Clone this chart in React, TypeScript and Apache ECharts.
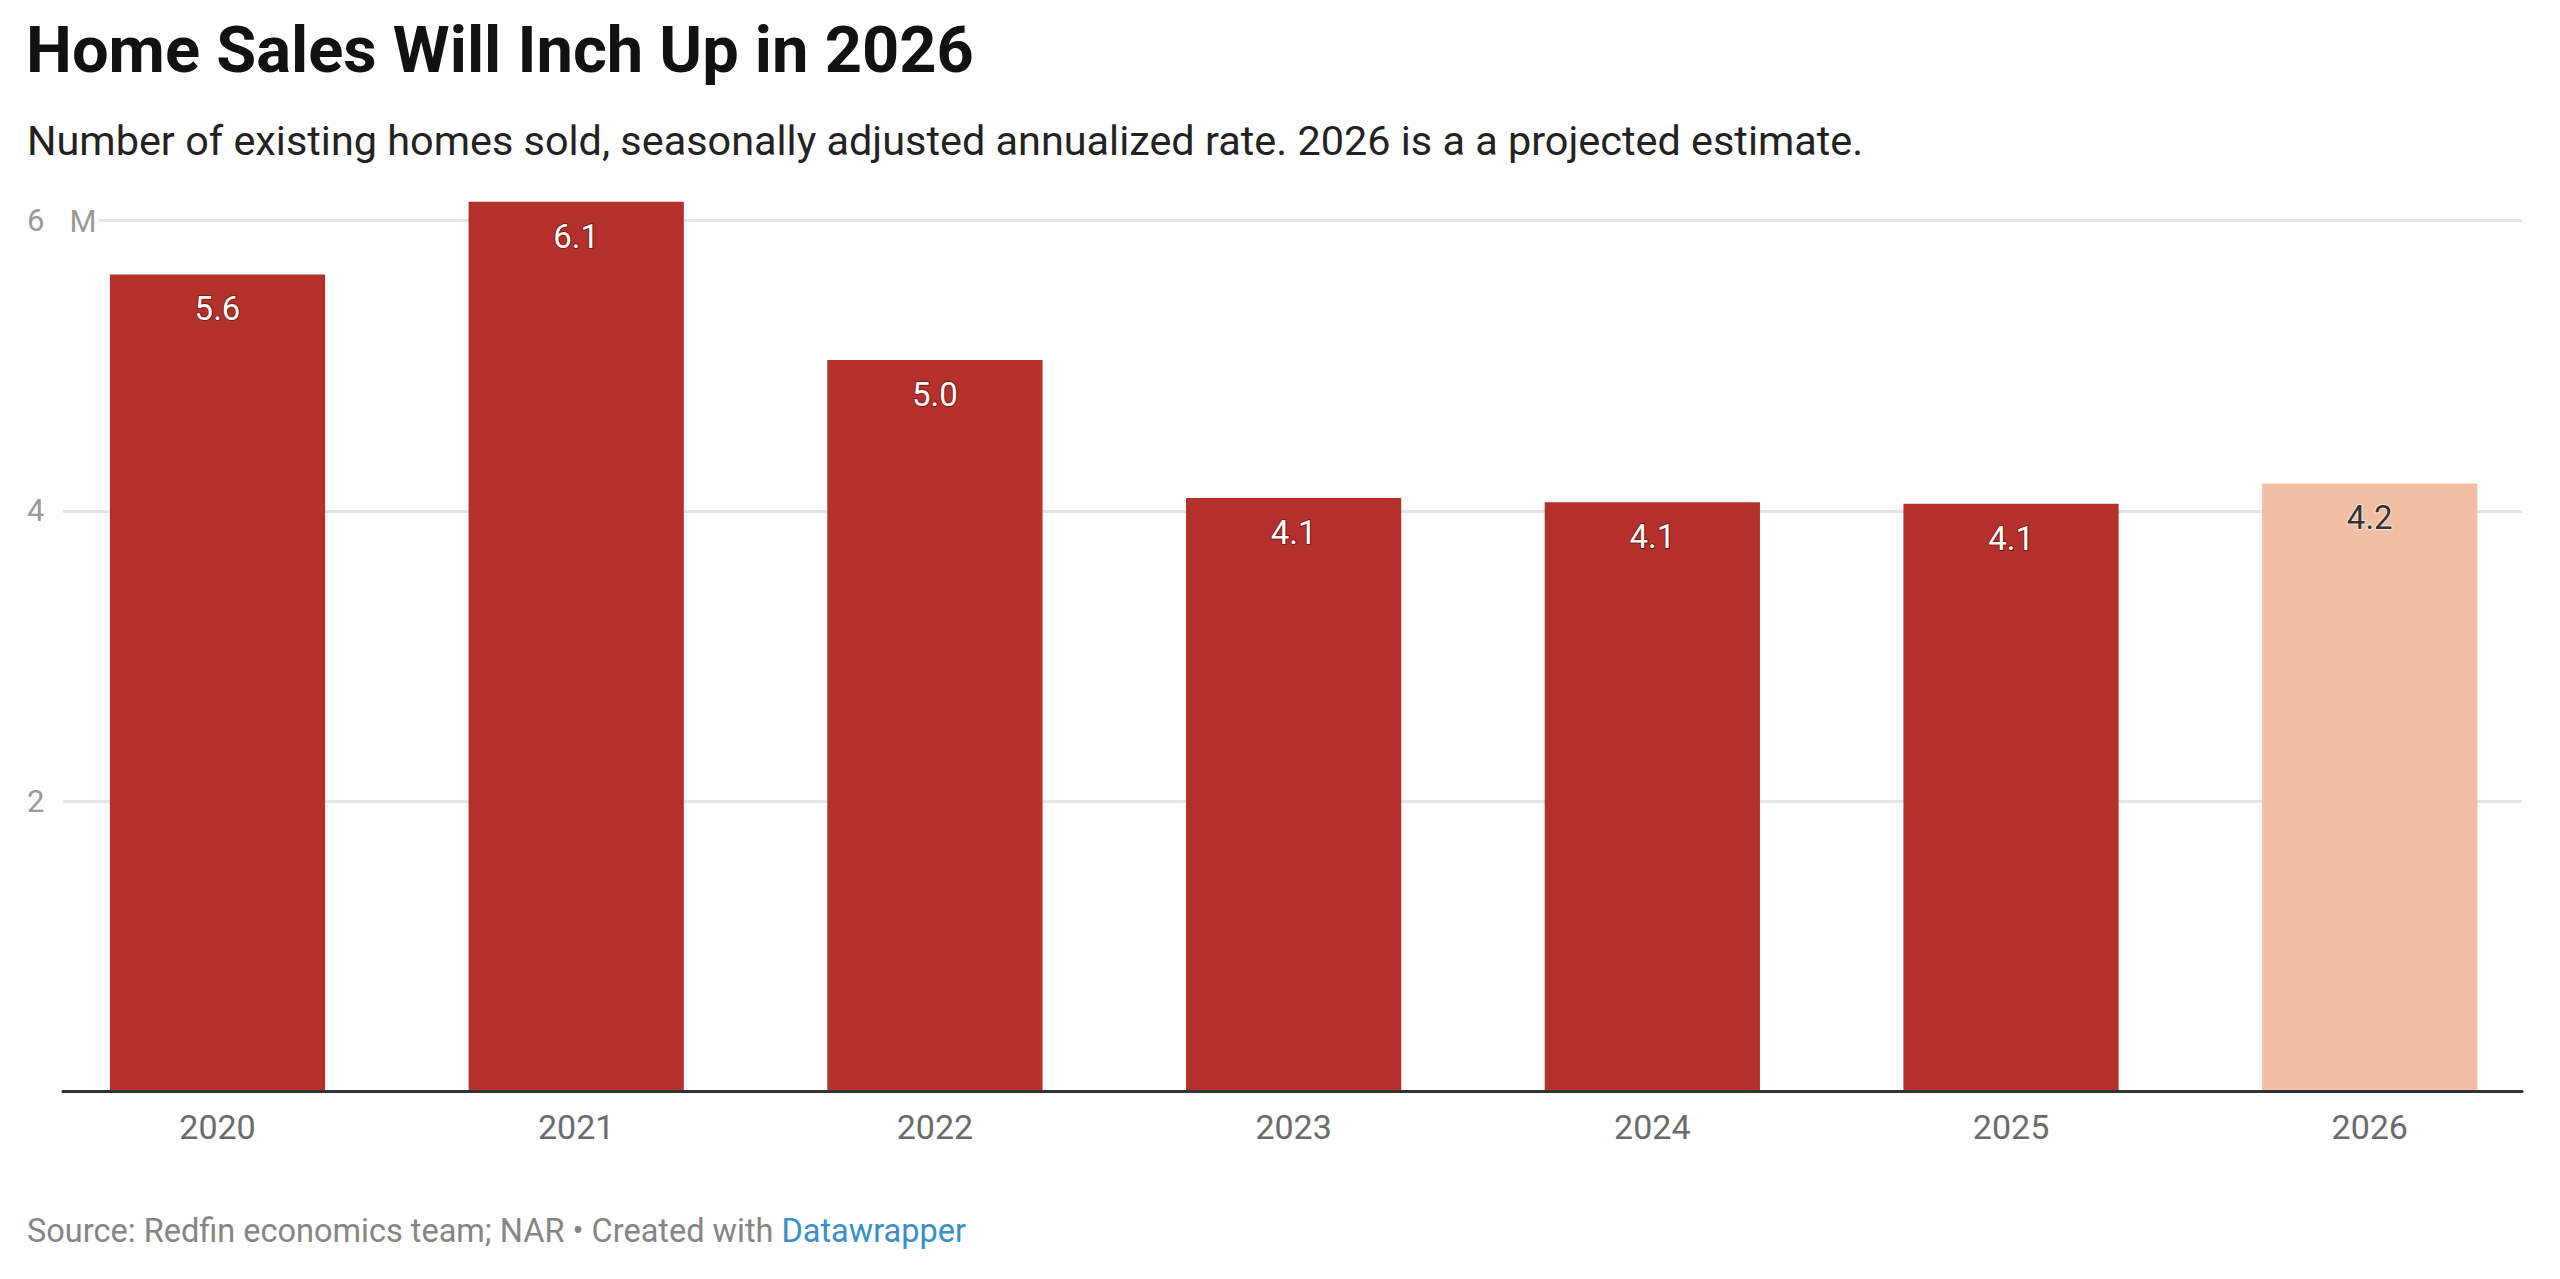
import React, { useEffect, useRef } from "react";
import * as echarts from "echarts";

const categories = ["2020", "2021", "2022", "2023", "2024", "2025", "2026"];
const sales = [5.63, 6.13, 5.04, 4.09, 4.06, 4.05, 4.19];
const valueLabels = ["5.6", "6.1", "5.0", "4.1", "4.1", "4.1", "4.2"];
const projected = [false, false, false, false, false, false, true];
const yMin = 0;
const yMax = 6;
const yInterval = 2;

const RED = "#b4302a";
const PEACH = "#f3bfa4";
const FONT = "Roboto";

export default function App() {
  const ref = useRef<HTMLDivElement>(null);
  useEffect(() => {
    if (!ref.current) return;
    const chart = echarts.init(ref.current, null, { renderer: "svg" });
    const top = 220.7;
    const bottom = 187.5;
    const option: any = {
      animation: false,
      backgroundColor: "#ffffff",
      title: [
        {
          text: "Home Sales Will Inch Up in 2026",
          left: 26,
          top: 17,
          padding: 0,
          textStyle: { fontFamily: FONT, fontSize: 65, fontWeight: "bold", color: "#111111" },
        },
        {
          text: "Number of existing homes sold, seasonally adjusted annualized rate. 2026 is a a projected estimate.",
          left: 27,
          top: 120,
          padding: 0,
          textStyle: { fontFamily: FONT, fontSize: 41.4, fontWeight: "normal", color: "#222222" },
        },
        {
          text: "{s|Source: Redfin economics team; NAR • Created with }{l|Datawrapper}",
          left: 27,
          top: 1214,
          padding: 0,
          textStyle: {
            fontFamily: FONT,
            fontSize: 32.5,
            fontWeight: "normal",
            rich: {
              s: { fontFamily: FONT, fontSize: 32.5, fontWeight: "normal", color: "#858585" },
              l: { fontFamily: FONT, fontSize: 32.5, fontWeight: "normal", color: "#3a8fc7" },
            },
          },
        },
      ],
      grid: [
        { left: 63, right: 38, top, bottom, outerBoundsMode: "none" },
        { left: 38.15, right: 10.9, top, bottom, outerBoundsMode: "none" },
      ],
      xAxis: [
        {
          type: "category",
          gridIndex: 0,
          data: categories,
          z: 3,
          axisLine: { show: true, lineStyle: { color: "#333333", width: 3 } },
          axisTick: { show: false },
          axisLabel: { show: false },
          splitLine: { show: false },
        },
        {
          type: "category",
          gridIndex: 1,
          data: categories,
          axisLine: { show: false },
          axisTick: { show: false },
          splitLine: { show: false },
          axisLabel: {
            margin: 18,
            fontFamily: FONT,
            fontSize: 34,
            color: "#6b6b6b",
          },
        },
      ],
      yAxis: [
        {
          type: "value",
          gridIndex: 0,
          min: yMin,
          max: yMax,
          interval: yInterval,
          axisLine: { show: false },
          axisTick: { show: false },
          splitLine: { show: true, lineStyle: { color: "#e6e6e6", width: 3 } },
          axisLabel: {
            align: "left",
            margin: 36,
            formatter: (v: number) => {
              if (v === 0) return "";
              if (v === yMax) return "{n|" + v + "}{m|M}";
              return "{n|" + v + "}";
            },
            rich: {
              n: { fontFamily: FONT, fontSize: 31, color: "#9a9a9a" },
              m: {
                fontFamily: FONT,
                fontSize: 31,
                color: "#9a9a9a",
                backgroundColor: "#ffffff",
                padding: [2, 2, 0, 25],
              },
            },
          },
        },
        {
          type: "value",
          gridIndex: 1,
          min: yMin,
          max: yMax,
          interval: yInterval,
          show: false,
          splitLine: { show: false },
        },
      ],
      series: [
        {
          type: "bar",
          xAxisIndex: 1,
          yAxisIndex: 1,
          clip: false,
          barCategoryGap: "40%",
          data: sales.map((v, i) => ({
            value: v,
            itemStyle: { color: projected[i] ? PEACH : RED },
            label: projected[i]
              ? { color: "#333333", textBorderColor: "rgba(255,255,255,0.6)", textBorderWidth: 2 }
              : { color: "#ffffff", textBorderColor: "rgba(70,10,8,0.55)", textBorderWidth: 2 },
          })),
          label: {
            show: true,
            position: "insideTop",
            distance: 18,
            fontFamily: FONT,
            fontSize: 33,
            formatter: (p: any) => valueLabels[p.dataIndex],
          },
        },
      ],
    };
    chart.setOption(option);
    return () => chart.dispose();
  }, []);
  return (
    <div
      ref={ref}
      style={{ position: "fixed", left: 0, top: 0, width: 2560, height: 1279 }}
    />
  );
}
